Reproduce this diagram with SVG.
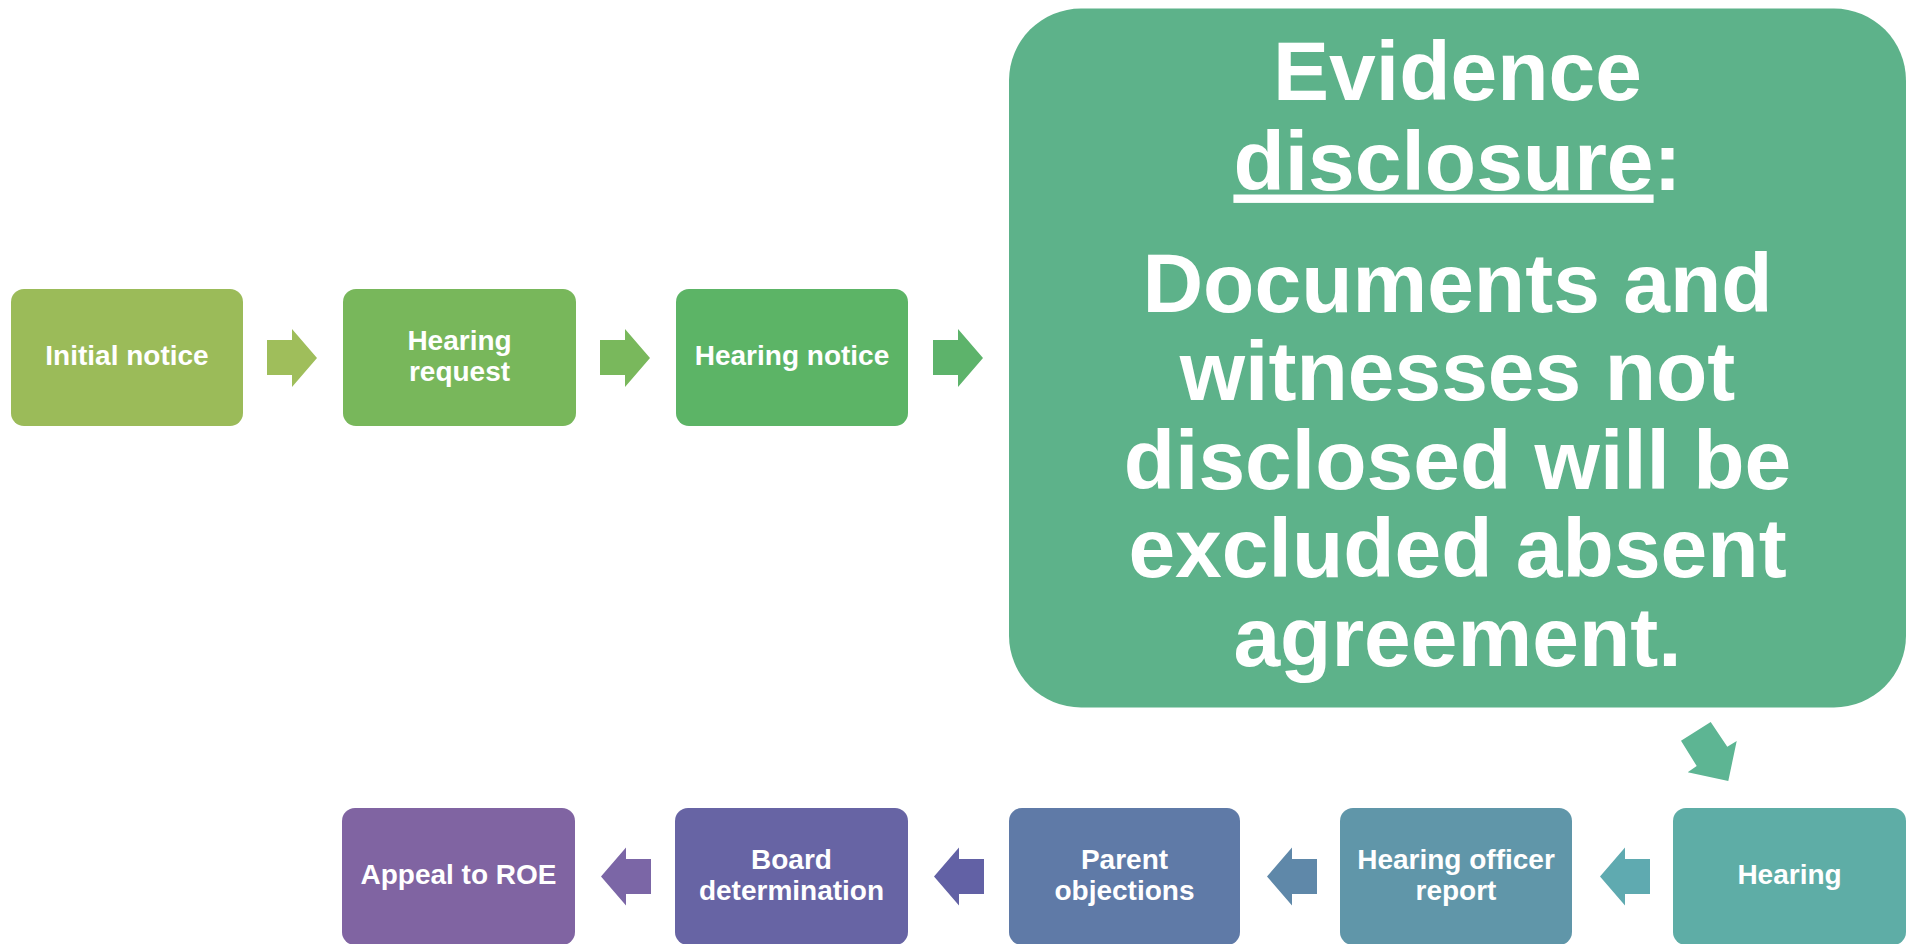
<svg xmlns="http://www.w3.org/2000/svg" width="1913" height="944" viewBox="0 0 1913 944">
<style>
.box{stroke:none}
.t{font-family:"Liberation Sans",Arial,sans-serif;font-weight:bold;fill:#ffffff;text-anchor:middle;font-size:28px}
.big{font-family:"Liberation Sans",Arial,sans-serif;font-weight:bold;fill:#ffffff;text-anchor:middle;font-size:84px}
</style>
<rect width="1913" height="944" fill="#ffffff"/>
<g id="connectors">
<polygon points="267,340 292,340 292,329 317,358 292,387 292,375 267,375" fill="#9fbe5b"/>
<polygon points="600,340 625,340 625,329 650,358 625,387 625,375 600,375" fill="#79b85c"/>
<polygon points="933,340 958,340 958,329 983,358 958,387 958,375 933,375" fill="#5db36b"/>
<polygon points="1710.7,722 1681,740.7 1696.7,766 1687.7,772.3 1728.3,781 1736.7,741 1727.3,746.7" fill="#5db593"/>
<polygon points="1650,859 1625,859 1625,847.5 1600,876.5 1625,905.5 1625,894 1650,894" fill="#5faab0"/>
<polygon points="1317,859 1292,859 1292,847.5 1267,876.5 1292,905.5 1292,894 1317,894" fill="#5f88a9"/>
<polygon points="984,859 959,859 959,847.5 934,876.5 959,905.5 959,894 984,894" fill="#6261a5"/>
<polygon points="651,859 626,859 626,847.5 601,876.5 626,905.5 626,894 651,894" fill="#7b66a6"/>
</g>
<g id="n1"><rect class="box" x="11" y="289" width="232" height="137" rx="13" fill="#9bbb59"/><text class="t" x="127" y="365">Initial notice</text></g>
<g id="n2"><rect class="box" x="343" y="289" width="233" height="137" rx="13" fill="#78b75b"/><text class="t" x="459.5" y="349.5">Hearing</text><text class="t" x="459.5" y="380.5">request</text></g>
<g id="n3"><rect class="box" x="676" y="289" width="232" height="137" rx="13" fill="#5cb466"/><text class="t" x="792" y="365">Hearing notice</text></g>
<g id="n4"><rect class="box" x="1009" y="8.5" width="897" height="699" rx="72" fill="#5db28a"/>
<text class="big" x="1457.5" y="100">Evidence</text>
<text class="big" x="1457.5" y="189.5"><tspan text-decoration="underline">disclosure</tspan>:</text>
<text class="big" x="1457.5" y="312">Documents and</text>
<text class="big" x="1457.5" y="400">witnesses not</text>
<text class="big" x="1457.5" y="489">disclosed will be</text>
<text class="big" x="1457.5" y="577">excluded absent</text>
<text class="big" x="1457.5" y="665.5">agreement.</text>
</g>
<g id="n5"><rect class="box" x="1673" y="808" width="233" height="137" rx="13" fill="#5eada6"/><text class="t" x="1789.5" y="884">Hearing</text></g>
<g id="n6"><rect class="box" x="1340" y="808" width="232" height="137" rx="13" fill="#6096a9"/><text class="t" x="1456" y="869">Hearing officer</text><text class="t" x="1456" y="900">report</text></g>
<g id="n7"><rect class="box" x="1009" y="808" width="231" height="137" rx="13" fill="#5f7aa7"/><text class="t" x="1124.5" y="869">Parent</text><text class="t" x="1124.5" y="900">objections</text></g>
<g id="n8"><rect class="box" x="675" y="808" width="233" height="137" rx="13" fill="#6764a4"/><text class="t" x="791.5" y="869">Board</text><text class="t" x="791.5" y="900">determination</text></g>
<g id="n9"><rect class="box" x="342" y="808" width="233" height="137" rx="13" fill="#8064a2"/><text class="t" x="458.5" y="884">Appeal to ROE</text></g>
</svg>
